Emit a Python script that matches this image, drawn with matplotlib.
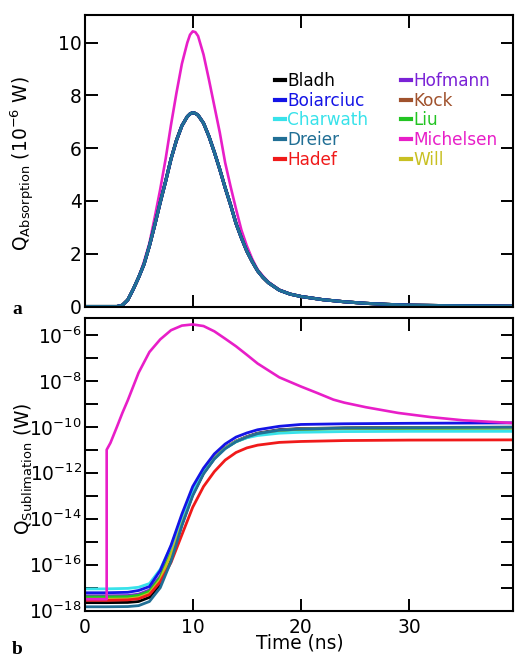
import numpy as np
import matplotlib
matplotlib.use("Agg")
import matplotlib.pyplot as plt
from matplotlib.ticker import FixedLocator, FuncFormatter, NullLocator

plt.rcParams['font.family'] = ['DejaVu Sans']
plt.rcParams['mathtext.default'] = 'regular'

# ---------------- data ----------------
names = ["Bladh", "Boiarciuc", "Charwath", "Dreier", "Hadef",
         "Hofmann", "Kock", "Liu", "Michelsen", "Will"]
colors = {"Bladh": "#000000", "Boiarciuc": "#1414e6", "Charwath": "#38e2ea",
          "Dreier": "#216f95", "Hadef": "#f01a1a", "Hofmann": "#7a22d6",
          "Kock": "#a0522d", "Liu": "#22c422", "Michelsen": "#e81ec8",
          "Will": "#c8c022"}

# (a) absorption, 1e-6 W
t_abs = [0, 2, 3, 3.5, 4, 4.5, 5, 5.5, 6, 6.5, 7, 7.5, 8, 8.5, 9, 9.5, 9.75,
         10, 10.25, 10.5, 11, 11.5, 12, 12.5, 13, 13.5, 14, 14.5, 15, 15.5,
         16, 16.5, 17, 18, 19, 20, 22, 24, 26, 28, 30, 34, 40]
abs_common = [0, 0, 0.0, 0.05, 0.25, 0.65, 1.1, 1.6, 2.3, 3.1, 3.95, 4.75,
              5.6, 6.3, 6.85, 7.2, 7.3, 7.35, 7.32, 7.25, 6.95, 6.45, 5.85,
              5.2, 4.5, 3.85, 3.15, 2.6, 2.1, 1.7, 1.35, 1.1, 0.9, 0.62, 0.47,
              0.38, 0.26, 0.18, 0.12, 0.08, 0.05, 0.03, 0.01]
abs_michelsen = [0, 0, 0.0, 0.05, 0.25, 0.65, 1.1, 1.7, 2.4, 3.4, 4.45, 5.6,
                 6.9, 8.1, 9.2, 10.0, 10.3, 10.43, 10.4, 10.25, 9.55, 8.6,
                 7.6, 6.6, 5.45, 4.55, 3.7, 2.9, 2.3, 1.8, 1.4, 1.15, 0.93,
                 0.64, 0.48, 0.39, 0.27, 0.18, 0.12, 0.08, 0.05, 0.03, 0.01]

# (b) sublimation, log10(W)
t_sub = [0, 2, 4, 5, 6, 7, 8, 9, 10, 11, 12, 13, 14, 15, 16, 18, 20, 24, 30, 40]
logsub = {
    "Bladh":     [-17.65, -17.65, -17.64, -17.6, -17.42, -16.85, -15.75, -14.25, -12.95, -12.02, -11.38, -10.93, -10.63, -10.43, -10.28, -10.13, -10.08, -10.05, -10.03, -10.02],
    "Boiarciuc": [-17.22, -17.22, -17.2, -17.12, -16.95, -16.25, -15.15, -13.8, -12.6, -11.8, -11.18, -10.75, -10.45, -10.27, -10.13, -9.98, -9.9, -9.87, -9.85, -9.83],
    "Charwath":  [-17.05, -17.05, -17.03, -16.98, -16.82, -16.2, -15.2, -13.9, -12.8, -11.98, -11.4, -10.95, -10.65, -10.48, -10.38, -10.28, -10.24, -10.21, -10.2, -10.2],
    "Dreier":    [-17.83, -17.83, -17.82, -17.78, -17.6, -17.0, -15.85, -14.3, -13.0, -12.05, -11.4, -10.95, -10.65, -10.45, -10.3, -10.15, -10.1, -10.06, -10.04, -10.02],
    "Hadef":     [-17.55, -17.55, -17.53, -17.48, -17.3, -16.75, -15.9, -14.7, -13.5, -12.6, -11.95, -11.45, -11.12, -10.92, -10.8, -10.68, -10.64, -10.6, -10.58, -10.57],
    "Hofmann":   [-17.35, -17.35, -17.34, -17.28, -17.1, -16.5, -15.4, -14.0, -12.8, -11.95, -11.33, -10.9, -10.62, -10.44, -10.3, -10.15, -10.1, -10.07, -10.05, -10.04],
    "Kock":      [-17.45, -17.45, -17.44, -17.38, -17.2, -16.6, -15.5, -14.1, -12.88, -12.0, -11.36, -10.92, -10.63, -10.45, -10.31, -10.16, -10.1, -10.07, -10.05, -10.04],
    "Liu":       [-17.4, -17.4, -17.39, -17.33, -17.15, -16.55, -15.45, -14.05, -12.85, -11.98, -11.36, -10.93, -10.65, -10.47, -10.33, -10.18, -10.12, -10.09, -10.07, -10.06],
    "Will":      [-17.5, -17.5, -17.49, -17.43, -17.25, -16.65, -15.55, -14.15, -12.9, -12.0, -11.37, -10.92, -10.63, -10.45, -10.31, -10.16, -10.1, -10.07, -10.05, -10.04],
}
t_mich = [0, 2.05, 2.05, 2.4, 3, 3.5, 4, 5, 6, 7, 8, 9, 10, 11, 12, 13, 14,
          15, 16, 17, 18, 20, 21.5, 23, 24, 26, 29, 32, 35, 39.7]
log_mich = [-17.5, -17.5, -11.0, -10.7, -10.0, -9.4, -8.85, -7.65, -6.75,
            -6.2, -5.8, -5.6, -5.55, -5.62, -5.85, -6.17, -6.5, -6.87, -7.25,
            -7.55, -7.85, -8.25, -8.53, -8.82, -8.95, -9.15, -9.4, -9.58,
            -9.72, -9.84]

# ---------------- figure ----------------
fig = plt.figure(figsize=(5.16, 6.59), dpi=100)
W, H = 516.0, 659.0
axL, axR = 84.5, 513.0
ax1 = fig.add_axes([axL / W, 1 - 306.5 / H, (axR - axL) / W, (306.5 - 15) / H])
ax2 = fig.add_axes([axL / W, 1 - 610.7 / H, (axR - axL) / W, (610.7 - 318) / H])

lw = 2.2
lines = {}
lines["Michelsen"] = ax1.plot(t_abs, abs_michelsen, color=colors["Michelsen"], lw=1.9, label="Michelsen")[0]
for n in ["Will", "Liu", "Kock", "Hofmann", "Hadef", "Charwath", "Bladh", "Boiarciuc", "Dreier"]:
    lines[n] = ax1.plot(t_abs, abs_common, color=colors[n], lw=lw, label=n)[0]

for n in ["Bladh", "Hofmann", "Kock", "Liu", "Will", "Hadef", "Charwath", "Boiarciuc", "Dreier"]:
    ax2.plot(t_sub, 10.0 ** np.array(logsub[n]), color=colors[n], lw=2.0)
ax2.plot(t_mich, 10.0 ** np.array(log_mich), color=colors["Michelsen"], lw=1.9)

for ax in (ax1, ax2):
    ax.set_xlim(0, 39.6)
    ax.set_xticks([0, 10, 20, 30])
    ax.tick_params(direction='in', length=9, width=1.4, top=True, right=True,
                   labelsize=13.4, pad=5)
    ax.tick_params(axis='y', pad=2)
    for s in ax.spines.values():
        s.set_linewidth(1.5)

ax1.set_ylim(0, 11.05)
ax1.set_yticks([0, 2, 4, 6, 8, 10])
ax1.tick_params(labelbottom=False)
ax1.set_ylabel("Q$_{Absorption}$ (10$^{-6}$ W)", fontsize=13.4)
ax1.yaxis.set_label_coords(-0.112, 0.49)

ax2.set_yscale('log')
ax2.set_ylim(1e-18, 10 ** -5.27)
ax2.yaxis.set_major_locator(FixedLocator([10.0 ** k for k in range(-18, -5)]))
ax2.yaxis.set_minor_locator(NullLocator())
ax2.yaxis.set_major_formatter(FuncFormatter(
    lambda v, p: ("$10^{%d}$" % int(round(np.log10(v)))) if int(round(np.log10(v))) % 2 == 0 else ""))
ax2.set_ylabel("Q$_{Sublimation}$ (W)", fontsize=13.4)
ax2.yaxis.set_label_coords(-0.116, 0.486)
ax2.set_xlabel("Time (ns)", fontsize=13.4)
ax2.xaxis.set_label_coords(0.503, -0.079)

handles = [lines[n] for n in names]
leg = ax1.legend(handles, names, ncol=2, loc='upper left',
                 bbox_to_anchor=(0.444, 0.805), frameon=False, fontsize=12.2,
                 handlelength=0.6, handletextpad=0.15, labelspacing=0.1,
                 columnspacing=1.9, borderaxespad=0, borderpad=0,
                 labelcolor='linecolor')
for h in leg.legend_handles:
    h.set_linewidth(3)

fig.text(12 / W, 1 - 314 / H, "a", family="Liberation Serif", weight="bold",
         fontsize=14, va="baseline")
fig.text(12 / W, 1 - 654 / H, "b", family="Liberation Serif", weight="bold",
         fontsize=14, va="baseline")

fig.savefig("out.png", dpi=100)
